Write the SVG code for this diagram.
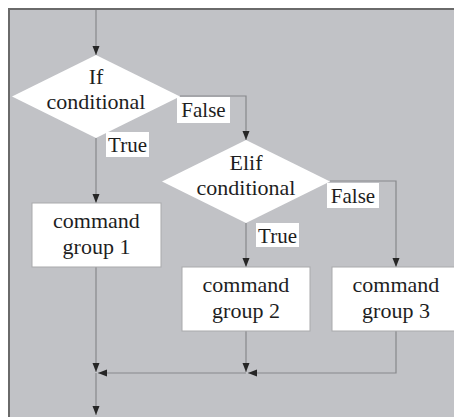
<svg xmlns="http://www.w3.org/2000/svg" width="454" height="417" viewBox="0 0 454 417">
  <defs>
    <marker id="arrow" markerUnits="userSpaceOnUse" markerWidth="9" markerHeight="8" refX="9" refY="4" orient="auto">
      <path d="M0,0.5 L9,4 L0,7.5 z" fill="#262626"/>
    </marker>
    <style>
      .frame { fill: #c1c2c6; }
      .border { fill: none; stroke: #6a6a6a; stroke-width: 2; }
      .decision { fill: #ffffff; }
      .process { fill: #ffffff; stroke: #a9a9ab; stroke-width: 1; }
      .tag { fill: #ffffff; }
      .flow { fill: none; stroke: #87888b; stroke-width: 1.2; }
      .arrowed { marker-end: url(#arrow); }
      text { font-family: "Liberation Serif", "DejaVu Serif", serif; fill: #1e1e1e; text-anchor: middle; }
      .node-text { font-size: 22px; }
      .tag-text { font-size: 21px; }
    </style>
  </defs>

  <!-- background panel -->
  <rect class="frame" x="9" y="9" width="445" height="408"/>
  <path class="border" d="M9,417 V9 H454"/>

  <!-- connectors -->
  <g id="connectors">
    <path class="flow arrowed" d="M96,10 V55"/>
    <path class="flow arrowed" d="M96,138 V203"/>
    <path class="flow arrowed" d="M180,96 H246 V140"/>
    <path class="flow arrowed" d="M246,223 V267"/>
    <path class="flow arrowed" d="M330,181 H396 V267"/>
    <path class="flow arrowed" d="M96,267 V372"/>
    <path class="flow arrowed" d="M246,331 V372"/>
    <path class="flow arrowed" d="M396,331 V373 H248"/>
    <path class="flow arrowed" d="M246,373 H98"/>
    <path class="flow arrowed" d="M96,373 V415"/>
  </g>

  <!-- decision: if -->
  <g id="if-conditional">
    <polygon class="decision" points="96,55 180,96.5 96,138 12,96.5"/>
    <text class="node-text" x="96" y="84">If</text>
    <text class="node-text" x="96" y="109">conditional</text>
  </g>

  <!-- decision: elif -->
  <g id="elif-conditional">
    <polygon class="decision" points="246,140 330,181.5 246,223 162,181.5"/>
    <text class="node-text" x="246" y="170">Elif</text>
    <text class="node-text" x="246" y="195">conditional</text>
  </g>

  <!-- command groups -->
  <g id="command-group-1">
    <rect class="process" x="32" y="203" width="129" height="64"/>
    <text class="node-text" x="96.5" y="228">command</text>
    <text class="node-text" x="96.5" y="254">group 1</text>
  </g>
  <g id="command-group-2">
    <rect class="process" x="182" y="267" width="128" height="64"/>
    <text class="node-text" x="246" y="292">command</text>
    <text class="node-text" x="246" y="318">group 2</text>
  </g>
  <g id="command-group-3">
    <rect class="process" x="332" y="267" width="128" height="64"/>
    <text class="node-text" x="396" y="292">command</text>
    <text class="node-text" x="396" y="318">group 3</text>
  </g>

  <!-- branch labels -->
  <g id="label-if-false">
    <rect class="tag" x="177" y="97" width="53" height="26"/>
    <text class="tag-text" x="203.5" y="117">False</text>
  </g>
  <g id="label-if-true">
    <rect class="tag" x="106" y="132" width="43" height="25"/>
    <text class="tag-text" x="127.5" y="152">True</text>
  </g>
  <g id="label-elif-false">
    <rect class="tag" x="327" y="183" width="52" height="25"/>
    <text class="tag-text" x="353" y="203">False</text>
  </g>
  <g id="label-elif-true">
    <rect class="tag" x="256" y="223" width="43" height="24"/>
    <text class="tag-text" x="277.5" y="243">True</text>
  </g>
</svg>
